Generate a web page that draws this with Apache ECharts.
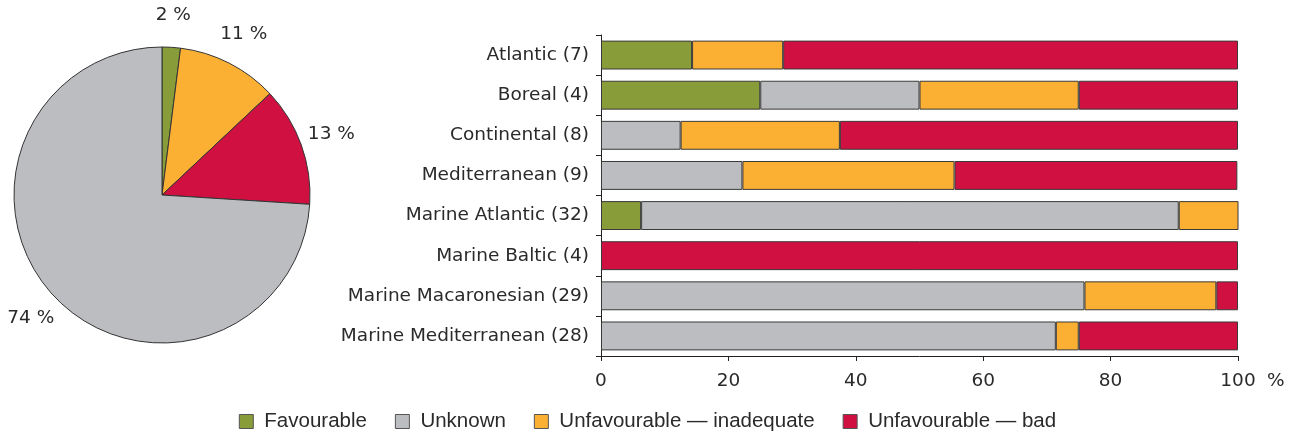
<!DOCTYPE html>
<html>
<head>
<meta charset="utf-8">
<script src="https://cdn.jsdelivr.net/npm/echarts@6/dist/echarts.min.js"></script>
<style>
html,body{margin:0;padding:0;background:#fff;}
#chart{width:1295px;height:432px;}
</style>
</head>
<body>
<div id="chart"></div>
<script>
// ---- data ----
const categories = ['Atlantic (7)', 'Boreal (4)', 'Continental (8)', 'Mediterranean (9)',
  'Marine Atlantic (32)', 'Marine Baltic (4)', 'Marine Macaronesian (29)', 'Marine Mediterranean (28)'];
const seriesNames = ['Favourable', 'Unknown', 'Unfavourable \u2014 inadequate', 'Unfavourable \u2014 bad'];
const favourable   = [14.3, 25, null, null, 6.3, null, null, null];
const unknown      = [null, 25, 12.5, 22.2, 84.4, null, 75.9, 71.4];
const inadequate   = [14.3, 25, 25, 33.3, 9.4, null, 20.7, 3.6];
const bad          = [71.4, 25, 62.5, 44.4, null, 100, 3.4, 25];
const pieNames = ['Favourable', 'Unfavourable \u2014 inadequate', 'Unfavourable \u2014 bad', 'Unknown'];
const pieValues = [2, 11, 13, 74];
const xTicks = [0, 20, 40, 60, 80, 100];

const colors = {
  'Favourable': '#889C3A',
  'Unknown': '#BCBDC1',
  'Unfavourable \u2014 inadequate': '#FBB034',
  'Unfavourable \u2014 bad': '#D01040'
};
const FONT = 'DejaVu Sans';
const TXT = '#2a2a2a';
const FS = 18.5;

const barData = [favourable, unknown, inadequate, bad];
const barSeries = seriesNames.map((n, i) => ({
  name: n, type: 'bar', stack: 'total', data: barData[i],
  barCategoryGap: '28%',
  itemStyle: { color: colors[n], borderColor: '#3a3a3a', borderWidth: 1 },
  emphasis: { disabled: true }
}));

const pieData = pieNames.map((n, i) => ({ name: n, value: pieValues[i], itemStyle: { color: colors[n] } }));

const option = {
  animation: false,
  textStyle: { fontFamily: FONT },
  legend: {
    top: 406, left: 'center',
    itemWidth: 14, itemHeight: 14, itemGap: 28,
    icon: 'rect',
    itemStyle: { borderColor: '#555', borderWidth: 1 },
    textStyle: { fontFamily: "'Liberation Sans Narrow', 'Liberation Sans', sans-serif", fontSize: 20.5, color: TXT, padding: [0, 0, 0, 6] },
    data: seriesNames
  },
  grid: { left: 601, right: 57, top: 35, bottom: 76, containLabel: false },
  xAxis: {
    type: 'value', min: xTicks[0], max: xTicks[xTicks.length - 1], interval: xTicks[1] - xTicks[0],
    splitLine: { show: false },
    axisLine: { show: true, lineStyle: { color: '#222', width: 1 } },
    axisTick: { show: true, length: 5, lineStyle: { color: '#222' } },
    axisLabel: { fontSize: FS, color: TXT, margin: 16, fontFamily: FONT },
    name: '%', nameLocation: 'end', nameGap: 29,
    nameTextStyle: { fontSize: FS, color: TXT, fontFamily: FONT, verticalAlign: 'top', lineHeight: 50 }
  },
  yAxis: {
    type: 'category', data: categories, inverse: true,
    axisLine: { show: true, lineStyle: { color: '#222', width: 1 } },
    axisTick: { show: true, length: 5, lineStyle: { color: '#222' } },
    axisLabel: { fontSize: FS, color: TXT, margin: 12, fontFamily: FONT }
  },
  series: barSeries.concat([
    {
      name: 'pie', type: 'pie', center: [162, 195], radius: 148, startAngle: 90, clockwise: true,
      data: pieData, label: { show: false }, labelLine: { show: false },
      itemStyle: { borderColor: '#333', borderWidth: 1 },
      emphasis: { disabled: true }, silent: true
    },
    {
      name: 'pieLabels', type: 'pie', center: [162, 195], radius: [148, 206], startAngle: 90, clockwise: true,
      data: pieNames.map((n, i) => ({ name: n, value: pieValues[i] })),
      itemStyle: { color: 'rgba(0,0,0,0)', borderWidth: 0 },
      label: { show: true, position: 'inside', formatter: '{c} %', fontSize: FS, color: TXT, fontFamily: FONT },
      labelLine: { show: false },
      emphasis: { disabled: true }, silent: true
    }
  ])
};

const chart = echarts.init(document.getElementById('chart'), null, { renderer: 'canvas' });
chart.setOption(option);
</script>
</body>
</html>
